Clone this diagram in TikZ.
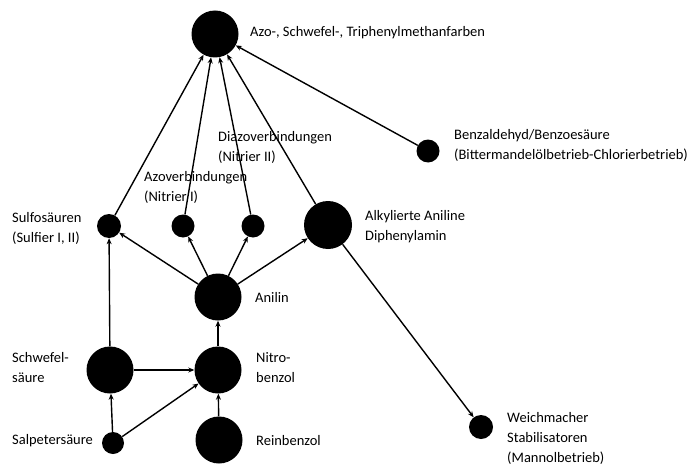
\documentclass[tikz,border=0pt]{standalone}
\usepackage{fontspec}
\setmainfont{Carlito}
\usetikzlibrary{arrows.meta}

\tikzset{
  dot/.style={circle,fill=black,inner sep=0pt,minimum size=#1},
  txt/.style={anchor=west,align=left,inner sep=0pt,font=\fontsize{14.5}{20}\selectfont},
  flow/.style={line width=1.4pt,-{Stealth[length=6pt,width=5pt]}}
}

\begin{document}
\begin{tikzpicture}[x=1pt,y=-1pt]
  \useasboundingbox (0,0) rectangle (687,468);

  % Produkte oben
  \node[dot=47] (AZO) at (215,34) {};
  \node[txt] (AZOL) at (250,33) {Azo-, Schwefel-, Triphenylmethanfarben};
  \node[dot=23] (BENZ) at (428,151) {};
  \node[txt] (BENZL) at (454,145) {Benzaldehyd/Benzoes\"aure\\(Bittermandel\"olbetrieb-Chlorierbetrieb)};

  % Zwischenprodukte
  \node[dot=24] (SULF) at (109,226) {};
  \node[txt] (SULFL) at (12,228) {Sulfos\"auren\\(Sulfier I, II)};
  \node[dot=23] (AZOV) at (183,226) {};
  \node[txt] (AZOVL) at (144,187) {Azoverbindungen\\(Nitrier I)};
  \node[dot=23] (DIAZ) at (253,226) {};
  \node[txt] (DIAZL) at (218,147) {Diazoverbindungen\\(Nitrier II)};
  \node[dot=48] (ALKY) at (328,225) {};
  \node[txt] (ALKYL) at (365,227) {Alkylierte Aniline\\Diphenylamin};

  \node[dot=47] (ANIL) at (218,297) {};
  \node[txt] (ANILL) at (255,297) {Anilin};

  % Grundstoffe
  \node[dot=47] (SCHW) at (110,370) {};
  \node[txt] (SCHWL) at (12,368) {Schwefel-\\s\"aure};
  \node[dot=47] (NITR) at (218,370) {};
  \node[txt] (NITRL) at (256,368) {Nitro-\\benzol};
  \node[dot=22] (SALP) at (113,443) {};
  \node[txt] (SALPL) at (12,441) {Salpeters\"aure};
  \node[dot=47] (REIN) at (219,440) {};
  \node[txt] (REINL) at (256,441) {Reinbenzol};
  \node[dot=24] (WEICH) at (481,427) {};
  \node[txt] (WEICHL) at (507,438) {Weichmacher\\Stabilisatoren\\(Mannolbetrieb)};

  % Verbindungen
  \draw[flow] (SULF) -- (AZO);
  \draw[flow] (AZOV) -- (AZO);
  \draw[flow] (DIAZ) -- (AZO);
  \draw[flow] (ALKY) -- (AZO);
  \draw[flow] (BENZ) -- (AZO);

  \draw[flow] (ANIL) -- (SULF);
  \draw[flow] (ANIL) -- (AZOV);
  \draw[flow] (ANIL) -- (DIAZ);
  \draw[flow] (ANIL) -- (ALKY);

  \draw[flow] (SCHW) -- (SULF);
  \draw[flow] (SCHW) -- (NITR);
  \draw[flow] (NITR) -- (ANIL);
  \draw[flow] (REIN) -- (NITR);
  \draw[flow] (SALP) -- (SCHW);
  \draw[flow] (SALP) -- (NITR);
  \draw[flow] (ALKY) -- (WEICH);

\end{tikzpicture}
\end{document}
